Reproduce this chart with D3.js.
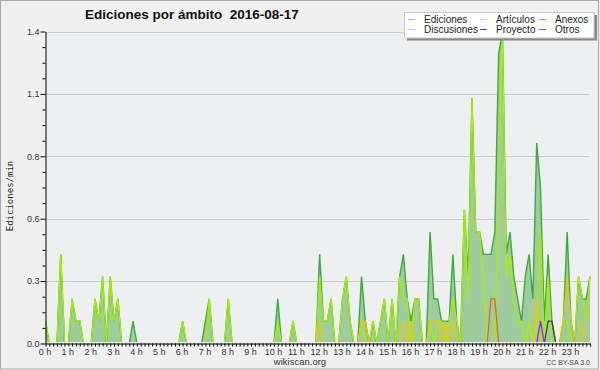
<!DOCTYPE html>
<html>
<head>
<meta charset="utf-8">
<script src="https://cdn.jsdelivr.net/npm/d3@7"></script>
<style>
    body { margin: 0; background: #f0f0f0; }
    svg text { font-family: "Liberation Sans", Arial, sans-serif; }
</style>
</head>
<body>
<svg id="chart" width="600" height="370"></svg>
<script>
// edits per minute, one value every 10 minutes (2016-08-17), 12 values per line = 2 hours
const ediciones = [
    0.1, 0, 0, 0, 0.4, 0, 0, 0.2, 0.1, 0.1, 0, 0,
    0, 0.2, 0.1, 0.3, 0, 0.3, 0.1, 0.2, 0, 0, 0, 0.1,
    0, 0, 0, 0, 0, 0, 0, 0, 0, 0, 0, 0,
    0.1, 0, 0, 0, 0, 0, 0.1, 0.2, 0, 0, 0, 0,
    0.2, 0, 0, 0, 0, 0, 0, 0, 0, 0, 0, 0,
    0, 0.2, 0, 0, 0, 0.1, 0, 0, 0, 0, 0, 0,
    0.4, 0.1, 0.1, 0.2, 0, 0, 0.2, 0.3, 0.1, 0, 0, 0.3,
    0.1, 0, 0.1, 0, 0.1, 0.2, 0, 0.2, 0, 0.3, 0.4, 0.2,
    0.1, 0.2, 0.2, 0, 0, 0.5, 0.2, 0.2, 0.1, 0.1, 0.1, 0.4,
    0.1, 0, 0.6, 0.3, 1.1, 0.5, 0.5, 0.4, 0.4, 0.4, 0.5, 1.3,
    1.4, 0.4, 0.5, 0.3, 0.2, 0.1, 0.3, 0.4, 0.2, 0.9, 0.7, 0.1,
    0.4, 0.1, 0, 0, 0.1, 0.5, 0.1, 0, 0.3, 0.2, 0.2, 0.3
];
const articulos = [
    0.1, 0, 0, 0, 0.4, 0, 0, 0.2, 0.1, 0.1, 0, 0,
    0, 0.2, 0.1, 0.3, 0, 0.3, 0.1, 0.2, 0, 0, 0, 0,
    0, 0, 0, 0, 0, 0, 0, 0, 0, 0, 0, 0,
    0.1, 0, 0, 0, 0, 0, 0, 0.2, 0, 0, 0, 0,
    0.2, 0, 0, 0, 0, 0, 0, 0, 0, 0, 0, 0,
    0, 0.1, 0, 0, 0, 0.1, 0, 0, 0, 0, 0, 0,
    0.3, 0.1, 0.1, 0.2, 0, 0, 0.2, 0.3, 0.1, 0, 0, 0.1,
    0, 0, 0.1, 0, 0.1, 0.2, 0, 0.2, 0, 0.3, 0.2, 0.2,
    0, 0.2, 0.2, 0, 0, 0.1, 0, 0.1, 0.1, 0, 0.1, 0.2,
    0.1, 0, 0.6, 0.2, 1.1, 0.5, 0.5, 0.3, 0, 0, 0, 0.7,
    1.4, 0.3, 0.4, 0.2, 0.1, 0.1, 0, 0.1, 0, 0.1, 0.5, 0,
    0.3, 0, 0, 0, 0.1, 0.1, 0, 0, 0.3, 0.2, 0.1, 0.3
];
const discusiones = [
    0, 0, 0, 0, 0, 0, 0, 0, 0, 0, 0, 0,
    0, 0, 0, 0, 0, 0, 0, 0, 0, 0, 0, 0,
    0, 0, 0, 0, 0, 0, 0, 0, 0, 0, 0, 0,
    0, 0, 0, 0, 0, 0, 0, 0, 0, 0, 0, 0,
    0, 0, 0, 0, 0, 0, 0, 0, 0, 0, 0, 0,
    0, 0, 0, 0, 0, 0, 0, 0, 0, 0, 0, 0,
    0.1, 0, 0, 0, 0, 0, 0, 0, 0, 0, 0, 0.1,
    0.1, 0, 0, 0, 0, 0, 0, 0, 0, 0, 0.1, 0,
    0.1, 0, 0, 0, 0, 0.1, 0.1, 0.1, 0, 0.1, 0, 0.1,
    0, 0, 0, 0, 0, 0, 0, 0, 0, 0, 0, 0,
    0, 0, 0, 0, 0, 0, 0, 0, 0, 0.2, 0, 0,
    0, 0, 0, 0, 0.1, 0.3, 0.1, 0, 0, 0.1, 0, 0
];
const anexos = [
    0, 0, 0, 0, 0, 0, 0, 0, 0, 0, 0, 0,
    0, 0, 0, 0, 0, 0, 0, 0, 0, 0, 0, 0,
    0, 0, 0, 0, 0, 0, 0, 0, 0, 0, 0, 0,
    0, 0, 0, 0, 0, 0, 0, 0, 0, 0, 0, 0,
    0, 0, 0, 0, 0, 0, 0, 0, 0, 0, 0, 0,
    0, 0, 0, 0, 0, 0, 0, 0, 0, 0, 0, 0,
    0, 0, 0, 0, 0, 0, 0, 0, 0, 0, 0, 0,
    0, 0, 0, 0, 0, 0, 0, 0, 0, 0, 0, 0,
    0, 0, 0, 0, 0, 0, 0, 0, 0, 0, 0, 0,
    0, 0, 0, 0, 0, 0, 0, 0, 0, 0.2, 0.2, 0,
    0, 0, 0, 0, 0, 0, 0, 0, 0, 0, 0, 0,
    0, 0, 0, 0, 0, 0, 0, 0, 0, 0, 0, 0
];
const proyecto = [
    0, 0, 0, 0, 0, 0, 0, 0, 0, 0, 0, 0,
    0, 0, 0, 0, 0, 0, 0, 0, 0, 0, 0, 0,
    0, 0, 0, 0, 0, 0, 0, 0, 0, 0, 0, 0,
    0, 0, 0, 0, 0, 0, 0, 0, 0, 0, 0, 0,
    0, 0, 0, 0, 0, 0, 0, 0, 0, 0, 0, 0,
    0, 0, 0, 0, 0, 0, 0, 0, 0, 0, 0, 0,
    0, 0, 0, 0, 0, 0, 0, 0, 0, 0, 0, 0,
    0, 0, 0, 0, 0, 0, 0, 0, 0, 0, 0, 0,
    0, 0, 0, 0, 0, 0, 0, 0, 0, 0, 0, 0,
    0, 0, 0, 0, 0, 0, 0, 0, 0, 0, 0, 0,
    0, 0, 0, 0, 0, 0, 0, 0, 0, 0, 0, 0,
    0.1, 0.1, 0, 0, 0, 0, 0, 0, 0, 0, 0, 0
];
const otros = [
    0, 0, 0, 0, 0, 0, 0, 0, 0, 0, 0, 0,
    0, 0, 0, 0, 0, 0, 0, 0, 0, 0, 0, 0,
    0, 0, 0, 0, 0, 0, 0, 0, 0, 0, 0, 0,
    0, 0, 0, 0, 0, 0, 0, 0, 0, 0, 0, 0,
    0, 0, 0, 0, 0, 0, 0, 0, 0, 0, 0, 0,
    0, 0, 0, 0, 0, 0, 0, 0, 0, 0, 0, 0,
    0, 0, 0, 0, 0, 0, 0, 0, 0, 0, 0, 0,
    0, 0, 0, 0, 0, 0, 0, 0, 0, 0, 0, 0,
    0, 0, 0, 0, 0, 0, 0, 0, 0, 0, 0, 0,
    0, 0, 0, 0, 0, 0, 0, 0, 0, 0, 0, 0,
    0, 0, 0, 0, 0, 0, 0, 0, 0, 0, 0.1, 0,
    0, 0, 0, 0, 0, 0, 0, 0, 0, 0, 0, 0
];

const hourLabels = ["0 h", "1 h", "2 h", "3 h", "4 h", "5 h", "6 h", "7 h", "8 h", "9 h", "10 h", "11 h",
    "12 h", "13 h", "14 h", "15 h", "16 h", "17 h", "18 h", "19 h", "20 h", "21 h", "22 h", "23 h"];
const yTicks = [0, 0.28, 0.56, 0.84, 1.12, 1.4];

const legendNames = ["Ediciones", "Discusiones", "Artículos", "Proyecto", "Anexos", "Otros"];

// minutes of the day for each sample
let minutes = ediciones.map(function (d, i) { return i * 10; });

let svg = d3.select("#chart");
let plotLeft = 45.5, plotRight = 590, plotTop = 31.5, plotBottom = 343.5;

let x = d3.scaleLinear().domain([0, 1430]).range([plotLeft, plotRight]);
let y = d3.scaleLinear().domain([0, 1.4]).range([plotBottom, plotTop]);

// background + frame
svg.append("rect").attr("x", 0.5).attr("y", 0.5).attr("width", 598).attr("height", 368.5)
    .attr("fill", "#f0f0f0").attr("stroke", "#a8a8a8");
svg.append("rect").attr("x", plotLeft).attr("y", plotTop)
    .attr("width", plotRight - plotLeft).attr("height", plotBottom - plotTop)
    .attr("fill", "#eeeff1");

// grid
svg.append("g").selectAll("line")
    .data(yTicks.filter(function (d) { return d > 0; }))
    .enter().append("line")
    .attr("x1", plotLeft).attr("x2", plotRight)
    .attr("y1", function (d) { return Math.round(y(d)) + 0.5; })
    .attr("y2", function (d) { return Math.round(y(d)) + 0.5; })
    .attr("stroke", "#cdcdcd");

svg.append("clipPath").attr("id", "plot-clip")
    .append("rect").attr("x", plotLeft).attr("y", 0)
    .attr("width", plotRight - plotLeft + 2).attr("height", plotBottom - 1.5);

let plot = svg.append("g").attr("clip-path", "url(#plot-clip)");

let area = d3.area()
    .x(function (d, i) { return x(minutes[i]); })
    .y0(y(0))
    .y1(function (d) { return y(d); });

let line = d3.line()
    .x(function (d, i) { return x(minutes[i]); })
    .y(function (d) { return y(d); });

plot.append("path").datum(ediciones).attr("d", area).attr("fill", "#9fcc9f");
plot.append("path").datum(ediciones).attr("d", line)
    .attr("fill", "none").attr("stroke", "#3cab3c").attr("stroke-width", 1.4);

let series = [
    {values: articulos, color: "#a8ee00"},
    {values: discusiones, color: "#f0c400"},
    {values: anexos, color: "#f06418"},
    {values: proyecto, color: "#454545"},
    {values: otros, color: "#8a30e6"}
];

plot.selectAll(".serie")
    .data(series)
    .enter().append("path")
    .attr("class", "serie")
    .attr("d", function (d) { return line(d.values); })
    .attr("fill", "none")
    .attr("stroke", function (d) { return d.color; })
    .attr("stroke-width", 1.3);

// y axis
let yAxis = svg.append("g")
    .attr("transform", "translate(" + plotLeft + ",0)")
    .call(d3.axisLeft(y).tickValues(yTicks).tickFormat(d3.format(".1f"))
        .tickSize(5).tickSizeOuter(0).tickPadding(1));
yAxis.select(".domain").attr("stroke", "#000");
yAxis.selectAll("text").attr("font-size", "9px").attr("fill", "#333")
    .attr("font-family", "Liberation Sans, sans-serif");

let minorY = d3.range(0, 21).map(function (k) { return k * 0.07; })
    .filter(function (v) { return Math.round(v * 100) % 28 !== 0; });
svg.append("g")
    .attr("transform", "translate(" + plotLeft + ",0)")
    .call(d3.axisLeft(y).tickValues(minorY).tickSize(3).tickSizeOuter(0).tickFormat(""))
    .select(".domain").remove();

// x axis
let xAxis = svg.append("g")
    .attr("transform", "translate(0," + plotBottom + ")")
    .call(d3.axisBottom(x).tickValues(minutes).tickSize(3).tickSizeOuter(0).tickFormat(""));
xAxis.select(".domain").attr("stroke", "#000").attr("stroke-width", 1.2);

svg.append("g").selectAll("text")
    .data(hourLabels)
    .enter().append("text")
    .attr("x", function (d, i) { return x(i * 60) - 0.5; })
    .attr("y", 355)
    .attr("text-anchor", "middle")
    .attr("font-size", "9px")
    .attr("fill", "#333")
    .text(function (d) { return d; });

// titles
svg.append("text")
    .attr("x", 85).attr("y", 19)
    .attr("font-size", "13.5px").attr("font-weight", "bold")
    .attr("fill", "#111")
    .style("white-space", "pre")
    .text("Ediciones por ámbito  2016-08-17");

svg.append("text")
    .attr("transform", "translate(13,196) rotate(-90)")
    .attr("text-anchor", "middle")
    .attr("font-size", "9px")
    .style("font-family", "DejaVu Sans Mono, monospace")
    .attr("fill", "#222")
    .text("Ediciones/min");

svg.append("text")
    .attr("x", 300).attr("y", 365)
    .attr("text-anchor", "middle")
    .attr("font-size", "9.5px").attr("fill", "#333")
    .text("wikiscan.org");

svg.append("text")
    .attr("x", 590).attr("y", 365)
    .attr("text-anchor", "end")
    .attr("font-size", "7px").attr("fill", "#444")
    .text("CC BY-SA 3.0");

// legend
let legendColors = ["#8fcf8f", "#f5cd45", "#c8ee60", "#555555", "#f5875a", "#9a55ee"];
let legend = svg.append("g");
legend.append("rect").attr("x", 407).attr("y", 15).attr("width", 190).attr("height", 25.5)
    .attr("fill", "#888");
legend.append("rect").attr("x", 404.5).attr("y", 12.5).attr("width", 189.5).attr("height", 25.5)
    .attr("fill", "#fff").attr("stroke", "#c8c8c8");

let colX = [408, 480, 539];
let textX = [424, 496, 555];
let rowY = [19.5, 29.5];

let items = legend.selectAll(".item")
    .data(legendNames)
    .enter().append("g")
    .attr("class", "item");
items.append("line")
    .attr("x1", function (d, i) { return colX[Math.floor(i / 2)]; })
    .attr("x2", function (d, i) { return colX[Math.floor(i / 2)] + 7; })
    .attr("y1", function (d, i) { return rowY[i % 2]; })
    .attr("y2", function (d, i) { return rowY[i % 2]; })
    .attr("stroke", function (d, i) { return legendColors[i]; })
    .attr("stroke-width", 1);
items.append("text")
    .attr("x", function (d, i) { return textX[Math.floor(i / 2)]; })
    .attr("y", function (d, i) { return rowY[i % 2] + 3.5; })
    .attr("font-size", "10px")
    .attr("fill", "#222")
    .text(function (d) { return d; });
</script>
</body>
</html>
